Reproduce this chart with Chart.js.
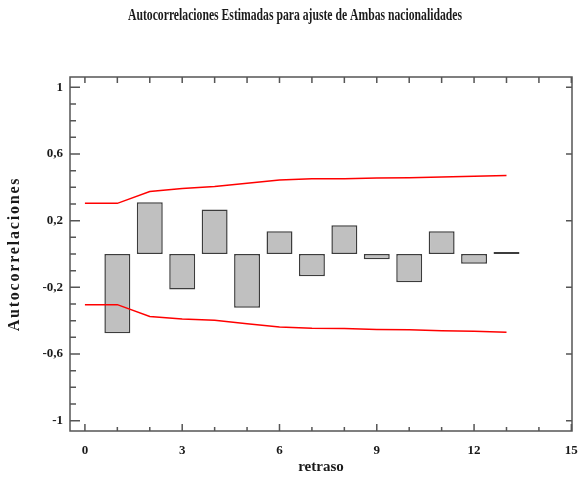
<!DOCTYPE html>
<html lang="es">
<head>
  <meta charset="UTF-8">
  <title>Autocorrelaciones Estimadas</title>
  <style>
    body {
      margin: 0;
      background: #fff;
    }
    #acfChart {
      display: block;
    }
  </style>
  <script src="https://cdn.jsdelivr.net/npm/chart.js"></script>
</head>
<body>
  <canvas id="acfChart" width="581" height="481"></canvas>

  <script>
    const chartTitle = 'Autocorrelaciones Estimadas para ajuste de Ambas nacionalidades';
    const xTitle = 'retraso';
    const yTitle = 'Autocorrelaciones';

    // autocorrelaciones por retraso
    const lags = [1, 2, 3, 4, 5, 6, 7, 8, 9, 10, 11, 12, 13];
    const acf = [-0.475, 0.31, -0.213, 0.267, -0.322, 0.136, -0.134, 0.172, -0.032, -0.17, 0.136, -0.058, 0.012];

    // limites de confianza
    const limitLags = [0, 1, 2, 3, 4, 5, 6, 7, 8, 9, 10, 11, 12, 13];
    const upperLimit = [0.304, 0.304, 0.375, 0.393, 0.405, 0.424, 0.444, 0.451, 0.452, 0.456, 0.457, 0.462, 0.466, 0.471];
    const lowerLimit = [-0.304, -0.304, -0.375, -0.39, -0.398, -0.418, -0.438, -0.446, -0.447, -0.453, -0.455, -0.461, -0.463, -0.469];

    const xTicks = [0, 3, 6, 9, 12, 15];
    const yTicks = [-1, -0.6, -0.2, 0.2, 0.6, 1];

    const serif = '"Liberation Serif", "DejaVu Serif", serif';
    const ink = '#1a1a1a';

    // marcos y marcas hacia dentro, como en el original
    const frameTicks = {
      id: 'frameTicks',
      afterDatasetsDraw(chart) {
        const { ctx, chartArea: a, scales: { x, y } } = chart;
        ctx.save();
        ctx.strokeStyle = '#555';
        ctx.lineWidth = 1.5;
        ctx.strokeRect(a.left, a.top, a.right - a.left, a.bottom - a.top);
        ctx.beginPath();
        for (let v = 0; v <= 15; v++) {
          const px = x.getPixelForValue(v);
          const major = xTicks.includes(v);
          ctx.moveTo(px, a.bottom);
          ctx.lineTo(px, a.bottom - (major ? 7 : 4));
          ctx.moveTo(px, a.top);
          ctx.lineTo(px, a.top + 6);
        }
        for (let i = -10; i <= 10; i++) {
          const v = i / 10;
          const py = y.getPixelForValue(v);
          const major = yTicks.some(t => Math.abs(t - v) < 1e-9);
          ctx.moveTo(a.left, py);
          ctx.lineTo(a.left + (major ? 10 : 6), py);
          if (major) {
            ctx.moveTo(a.right, py);
            ctx.lineTo(a.right - 6, py);
          }
        }
        ctx.stroke();
        ctx.restore();
      },
      afterDraw(chart) {
        const { ctx, chartArea: a } = chart;
        ctx.save();
        ctx.fillStyle = ink;
        ctx.textAlign = 'center';
        ctx.textBaseline = 'middle';

        // titulo, letra estrecha
        ctx.save();
        ctx.translate(295, 16);
        ctx.scale(0.73, 1);
        ctx.font = 'bold 16px ' + serif;
        ctx.fillText(chartTitle, 0, 0);
        ctx.restore();

        // titulo del eje y, espaciado
        ctx.translate(15, (a.top + a.bottom) / 2);
        ctx.rotate(-Math.PI / 2);
        ctx.font = 'bold 16px ' + serif;
        ctx.letterSpacing = '1.8px';
        ctx.fillText(yTitle, 0, 0);
        ctx.restore();
      }
    };

    new Chart(document.getElementById('acfChart'), {
      type: 'bar',
      data: {
        datasets: [
          {
            type: 'bar',
            label: 'Autocorrelaciones',
            data: lags.map((l, i) => ({ x: l, y: acf[i] })),
            backgroundColor: '#c0c0c0',
            borderColor: '#3c3c3c',
            borderWidth: 1.5,
            borderSkipped: false,
            barPercentage: 0.8,
            categoryPercentage: 1,
            order: 2
          },
          {
            type: 'line',
            label: 'Limite superior',
            data: limitLags.map((l, i) => ({ x: l, y: upperLimit[i] })),
            borderColor: '#ff0000',
            borderWidth: 1.5,
            pointRadius: 0,
            fill: false,
            tension: 0,
            order: 1
          },
          {
            type: 'line',
            label: 'Limite inferior',
            data: limitLags.map((l, i) => ({ x: l, y: lowerLimit[i] })),
            borderColor: '#ff0000',
            borderWidth: 1.5,
            pointRadius: 0,
            fill: false,
            tension: 0,
            order: 1
          }
        ]
      },
      options: {
        responsive: false,
        animation: false,
        layout: { padding: { left: 0, right: 9, top: 77, bottom: 0 } },
        plugins: {
          legend: { display: false },
          tooltip: { enabled: false },
          title: { display: false }
        },
        scales: {
          x: {
            type: 'linear',
            min: -0.46,
            max: 15.02,
            offset: false,
            grid: { display: false, drawTicks: false },
            border: { display: false },
            afterBuildTicks: scale => { scale.ticks = xTicks.map(v => ({ value: v })); },
            afterFit: scale => {
              scale.height = 50;
              scale.paddingLeft = 0;
              scale.paddingRight = 0;
            },
            ticks: {
              color: ink,
              padding: 12,
              maxRotation: 0,
              autoSkip: false,
              font: { family: serif, size: 13, weight: 'bold' }
            },
            title: {
              display: true,
              text: xTitle,
              color: ink,
              font: { family: serif, size: 15, weight: 'bold' },
              padding: { top: 0, bottom: 5 }
            }
          },
          y: {
            min: -1.062,
            max: 1.062,
            grid: { display: false, drawTicks: false },
            border: { display: false },
            afterBuildTicks: scale => { scale.ticks = yTicks.map(v => ({ value: v })); },
            afterFit: scale => {
              scale.width = 70;
              scale.paddingTop = 0;
              scale.paddingBottom = 0;
            },
            ticks: {
              color: ink,
              padding: 7,
              autoSkip: false,
              font: { family: serif, size: 13, weight: 'bold' },
              callback: v => String(v).replace('.', ',')
            }
          }
        }
      },
      plugins: [frameTicks]
    });
  </script>
</body>
</html>
